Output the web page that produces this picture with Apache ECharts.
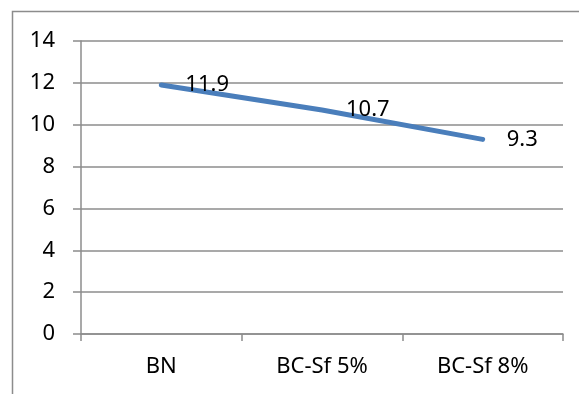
<!DOCTYPE html>
<html>
<head>
<meta charset="utf-8">
<script src="https://cdn.jsdelivr.net/npm/echarts@6/dist/echarts.min.js"></script>
<style>
  html, body { margin: 0; padding: 0; background: #fff; }
  #chart { width: 579px; height: 394px; }
</style>
</head>
<body>
<div id="chart"></div>
<script>
const categories = ['BN', 'BC-Sf 5%', 'BC-Sf 8%'];
const values = [11.9, 10.7, 9.3];

const FONT = '"Noto Sans", sans-serif';
const chart = echarts.init(document.getElementById('chart'), null, { renderer: 'canvas' });

chart.setOption({
  animation: false,
  backgroundColor: '#ffffff',
  graphic: [{
    type: 'rect',
    shape: { x: 12.5, y: 11.5, width: 600, height: 420 },
    style: { fill: 'none', stroke: '#8c8c8c', lineWidth: 1.5 },
    silent: true
  }],
  grid: { left: 81, top: 41, right: 16, bottom: 60, containLabel: false },
  xAxis: {
    type: 'category',
    data: categories,
    boundaryGap: true,
    axisLine: { lineStyle: { color: '#8c8c8c', width: 1.5 } },
    axisTick: { show: true, alignWithLabel: false, length: 7, lineStyle: { color: '#8c8c8c', width: 1.5 } },
    axisLabel: { color: '#000', fontFamily: FONT, fontSize: 22, margin: 22 },
    splitLine: { show: false }
  },
  yAxis: {
    type: 'value',
    min: 0, max: 14, interval: 2,
    axisLine: { show: true, lineStyle: { color: '#8c8c8c', width: 1.5 } },
    axisTick: { show: true, length: 8, lineStyle: { color: '#8c8c8c', width: 1.5 } },
    axisLabel: { color: '#000', fontFamily: FONT, fontSize: 22, margin: 26 },
    splitLine: { show: true, lineStyle: { color: '#8c8c8c', width: 1.5 } }
  },
  series: [{
    type: 'line',
    data: values,
    symbol: 'circle',
    symbolSize: 2,
    showSymbol: true,
    itemStyle: { color: 'rgba(0,0,0,0)' },
    lineStyle: { color: '#4a7ebb', width: 5, cap: 'round', join: 'round' },
    label: {
      show: true,
      position: 'right',
      distance: 23,
      color: '#000',
      fontFamily: FONT,
      fontSize: 22,
      formatter: p => p.value.toFixed(1)
    },
    z: 3
  }]
});
</script>
</body>
</html>
